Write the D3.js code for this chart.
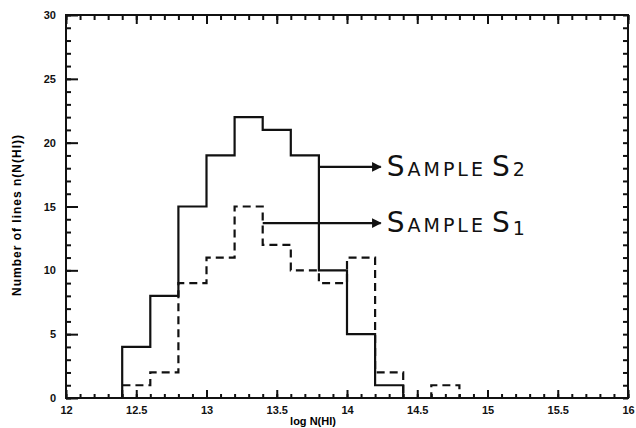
<!DOCTYPE html>
<html>
<head>
<meta charset="utf-8">
<script src="https://cdn.jsdelivr.net/npm/d3@7/dist/d3.min.js"></script>
<style>
  body { margin: 0; background: #fff; }
  .tick text { font-family: "Liberation Sans", Arial, sans-serif; font-weight: bold; font-size: 11px; fill: #111; }
  .s2 { fill: none; stroke: #111; stroke-width: 2.2; }
  .s1 { fill: none; stroke: #111; stroke-width: 2.2; stroke-dasharray: 8,5; }
  .arrow { stroke: #111; stroke-width: 2.4; }
  .note { font-family: "DejaVu Sans", sans-serif; fill: #111; letter-spacing: 3px; }
</style>
</head>
<body>
<svg id="chart" width="636" height="428"></svg>
<script>
// bins of 0.2 dex starting at 12.4
var binStart = 12.4,
    binWidth = 0.2;
var sampleS2 = [4, 8, 15, 19, 22, 21, 19, 10, 5, 1];
var sampleS1 = [1, 2, 9, 11, 15, 12, 10, 9, 11, 2, 0, 1];

var xMajor = [12, 12.5, 13, 13.5, 14, 14.5, 15, 15.5, 16];
var xLabels = ["12", "12.5", "13", "13.5", "14", "14.5", "15", "15.5", "16"];
var yMajor = [0, 5, 10, 15, 20, 25, 30];

// arrows: start x (on histogram edge), level, arrow tip x
var notes = [
  {name: "S", sub: "2", x0: 13.8, y: 18.1, x1: 14.24},
  {name: "S", sub: "1", x0: 13.4, y: 13.7, x1: 14.24}
];

var svg = d3.select("#chart");

var x = d3.scaleLinear().domain([12, 16]).range([66, 628]);
var y = d3.scaleLinear().domain([0, 30]).range([398, 15]);

var xMinor = d3.range(0, 41).map(function(i) { return 12 + i * 0.1; });
var yMinor = d3.range(0, 31);

// frame first, so nothing gets covered
svg.append("rect")
    .attr("x", x(12))
    .attr("y", y(30))
    .attr("width", x(16) - x(12))
    .attr("height", y(0) - y(30))
    .attr("fill", "none")
    .style("fill", "none")
    .attr("stroke", "#111")
    .attr("stroke-width", 2);

// histograms as step outlines
function steps(values) {
  var pts = [{x: binStart, v: 0}];
  values.forEach(function(v, i) { pts.push({x: binStart + i * binWidth, v: v}); });
  pts.push({x: binStart + values.length * binWidth, v: 0});
  return pts;
}

var line = d3.line()
    .x(function(d) { return x(d.x); })
    .y(function(d) { return y(d.v); })
    .curve(d3.curveStepAfter);

svg.append("path").attr("class", "s2").attr("d", line(steps(sampleS2)));
svg.append("path").attr("class", "s1").attr("d", line(steps(sampleS1)));

function ink(g) {
  g.selectAll(".tick line")
      .style("stroke", "#111")
      .style("stroke-width", "2px");
  g.select(".domain").remove();
}

var axes = svg.append("g").attr("class", "axes");

// minor ticks
axes.append("g")
    .attr("transform", "translate(0," + y(0) + ")")
    .call(d3.axisBottom(x).tickValues(xMinor).tickSize(-4).tickFormat(function() { return ""; }))
    .call(ink);
axes.append("g")
    .attr("transform", "translate(0," + y(30) + ")")
    .call(d3.axisTop(x).tickValues(xMinor).tickSize(-5).tickFormat(function() { return ""; }))
    .call(ink);
axes.append("g")
    .attr("transform", "translate(0," + y(30) + ")")
    .call(d3.axisTop(x).tickValues(xMajor).tickSize(-9).tickFormat(function() { return ""; }))
    .call(ink);
axes.append("g")
    .attr("transform", "translate(" + x(12) + ",0)")
    .call(d3.axisLeft(y).tickValues(yMinor).tickSize(-5).tickFormat(function() { return ""; }))
    .call(ink);
axes.append("g")
    .attr("transform", "translate(" + x(16) + ",0)")
    .call(d3.axisRight(y).tickValues(yMinor).tickSize(-5).tickFormat(function() { return ""; }))
    .call(ink);

// major ticks with labels
axes.append("g")
    .attr("transform", "translate(0," + y(0) + ")")
    .call(d3.axisBottom(x).tickValues(xMajor).tickSize(-8).tickPadding(8)
      .tickFormat(function(d, i) { return xLabels[i]; }))
    .call(ink);
axes.append("g")
    .attr("transform", "translate(" + x(12) + ",0)")
    .call(d3.axisLeft(y).tickValues(yMajor).tickSize(-12).tickPadding(10))
    .call(ink);

// arrows and labels
svg.append("defs").append("marker")
    .attr("id", "head")
    .attr("viewBox", "0 0 10 10")
    .attr("refX", 9).attr("refY", 5)
    .attr("markerWidth", 6).attr("markerHeight", 4)
    .attr("orient", "auto")
    .attr("markerUnits", "strokeWidth")
  .append("path")
    .attr("d", "M0,0L10,5L0,10Z")
    .attr("fill", "#111");

var n = svg.selectAll(".noteg")
    .data(notes)
  .enter().append("g");

n.append("line")
    .attr("class", "arrow")
    .attr("x1", function(d) { return x(d.x0); })
    .attr("x2", function(d) { return x(d.x1); })
    .attr("y1", function(d) { return y(d.y); })
    .attr("y2", function(d) { return y(d.y); })
    .attr("marker-end", "url(#head)");

var t = n.append("text")
    .attr("class", "note")
    .attr("x", function(d) { return x(d.x1) + 6; })
    .attr("y", function(d) { return y(d.y) + 9; });
t.append("tspan").attr("font-size", 28).text("S");
t.append("tspan").attr("font-size", 19).text("AMPLE");
t.append("tspan").attr("font-size", 28).attr("dx", 6).text(function(d) { return d.name; });
t.append("tspan").attr("font-size", 19).attr("dy", function(d) { return d.sub === "1" ? 3 : 0; })
    .text(function(d) { return d.sub; });

// axis titles
svg.append("text")
    .attr("transform", "translate(21," + 215 + ")rotate(-90)")
    .attr("text-anchor", "middle")
    .attr("font-family", "Liberation Sans, Arial, sans-serif")
    .attr("font-weight", "bold")
    .attr("font-size", 12)
    .attr("letter-spacing", 1)
    .text("Number of lines n(N(HI))");

svg.append("text")
    .attr("x", 313)
    .attr("y", 425)
    .attr("text-anchor", "middle")
    .attr("font-family", "Liberation Sans, Arial, sans-serif")
    .attr("font-weight", "bold")
    .attr("font-size", 11)
    .text("log N(HI)");
</script>
</body>
</html>
